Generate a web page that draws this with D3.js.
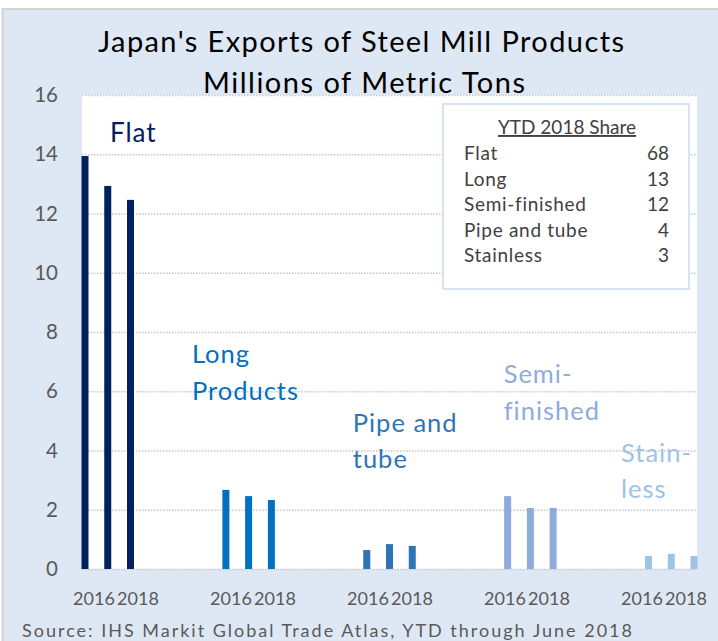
<!DOCTYPE html>
<html>
<head>
<meta charset="utf-8">
<script src="https://cdn.jsdelivr.net/npm/d3@7"></script>
<style>
  body { margin: 0; background: #fff; }
  svg { display: block; font-family: Lato, "Open Sans", sans-serif; }
</style>
</head>
<body>
<div id="chart"></div>
<script>
// chart data
const categories = ["Flat", "Long Products", "Pipe and tube", "Semi-finished", "Stainless"];
const years = ["2016", "2017", "2018"];
const flatValues = [13.94, 12.93, 12.46];
const longValues = [2.67, 2.46, 2.33];
const pipeValues = [0.64, 0.84, 0.78];
const semiValues = [2.46, 2.06, 2.06];
const stainlessValues = [0.44, 0.51, 0.44];
const yTicks = [0, 2, 4, 6, 8, 10, 12, 14, 16];
const xTickYears = ["2016", "2018"];
const groupLabels = [["Flat"], ["Long", "Products"], ["Pipe and", "tube"], ["Semi-", "finished"], ["Stain-", "less"]];
const shareLabels = ["Flat", "Long", "Semi-finished", "Pipe and tube", "Stainless"];
const shareValues = [68, 13, 12, 4, 3];

const seriesValues = [flatValues, longValues, pipeValues, semiValues, stainlessValues];
const colors = ["#002060", "#0070c0", "#2e75b6", "#8faadc", "#9dc3e6"];

// where the category names sit, relative to the first bar of the group
const labelLayout = [
  {dx: 25, y: 142, size: 26, lh: 0},
  {dx: -34, y: 363, size: 25.5, lh: 37},
  {dx: -14, y: 432, size: 25.5, lh: 36},
  {dx: -4, y: 383, size: 25.5, lh: 37},
  {dx: -27.5, y: 462, size: 25.5, lh: 36}
];

const w = 718, h = 641;
const plot = {left: 82, right: 697, top: 95, bottom: 569};

let svg = d3.select("#chart").append("svg")
  .attr("width", w)
  .attr("height", h);

// chart area background
svg.append("rect")
  .attr("x", 2.5).attr("y", 9)
  .attr("width", w + 10).attr("height", h + 10)
  .attr("fill", "#dee8f4")
  .attr("stroke", "#d4d4d4")
  .attr("stroke-width", 2);

svg.append("rect")
  .attr("x", plot.left).attr("y", plot.top)
  .attr("width", plot.right - plot.left)
  .attr("height", plot.bottom - plot.top)
  .attr("fill", "#fff");

// scales
let y = d3.scaleLinear().domain([0, 16]).range([plot.bottom, plot.top]);
let x0 = d3.scalePoint().domain(categories).range([85, 648.5]);
let x1 = d3.scalePoint().domain(years).range([0, 45.5]);
let xl0 = d3.scalePoint().domain(categories).range([94, 642]);
let xl1 = d3.scalePoint().domain(xTickYears).range([0, 44]);

// y axis + dotted gridlines
let yAxis = svg.append("g")
  .attr("transform", `translate(${plot.left},0)`)
  .call(d3.axisLeft(y).tickValues(yTicks).tickSize(-(plot.right - plot.left)).tickPadding(24));
yAxis.select(".domain").remove();
yAxis.selectAll(".tick line")
  .attr("stroke", "#c8c8c8")
  .attr("stroke-width", 1.5)
  .attr("stroke-dasharray", "1.5,1.5");
yAxis.selectAll(".tick text")
  .attr("fill", "#595959")
  .style("font-size", "20.5px")
  .style("font-family", "Lato, sans-serif");

// bars
let barData = categories.flatMap((c, i) =>
  seriesValues[i].map((v, j) => ({cat: c, year: years[j], value: v, color: colors[i]})));

svg.selectAll("rect.bar")
  .data(barData)
  .join("rect")
  .attr("class", "bar")
  .attr("x", d => x0(d.cat) + x1(d.year) - 3.5)
  .attr("y", d => y(d.value))
  .attr("width", 7)
  .attr("height", d => y(0) - y(d.value))
  .attr("fill", d => d.color);

// year labels under each group
let xLabelData = categories.flatMap(c => xTickYears.map(yr => ({cat: c, year: yr})));
svg.selectAll("text.xlab")
  .data(xLabelData)
  .join("text")
  .attr("class", "xlab")
  .attr("x", d => xl0(d.cat) + xl1(d.year))
  .attr("y", 605)
  .attr("text-anchor", "middle")
  .attr("fill", "#595959")
  .style("font-size", "18px")
  .text(d => d.year);

// category names inside the plot
categories.forEach((c, i) => {
  let lay = labelLayout[i];
  let t = svg.append("text")
    .attr("x", x0(c) + lay.dx)
    .attr("y", lay.y)
    .attr("fill", colors[i])
    .style("font-size", lay.size + "px")
    .style("letter-spacing", "1px");
  groupLabels[i].forEach((line, k) => {
    t.append("tspan")
      .attr("x", x0(c) + lay.dx)
      .attr("dy", k === 0 ? 0 : lay.lh)
      .text(line);
  });
});

// share table
svg.append("rect")
  .attr("x", 443).attr("y", 104)
  .attr("width", 246).attr("height", 185)
  .attr("fill", "#fff")
  .attr("stroke", "#c9dbf0")
  .attr("stroke-width", 1.5);

svg.append("text")
  .attr("x", 567).attr("y", 134)
  .attr("text-anchor", "middle")
  .attr("fill", "#404040")
  .style("font-size", "19px")
  .style("text-decoration", "underline")
  .text("YTD 2018 Share");

svg.selectAll("text.shareLab")
  .data(shareLabels)
  .join("text")
  .attr("class", "shareLab")
  .attr("x", 464)
  .attr("y", (d, i) => 160 + i * 25.6)
  .attr("fill", "#404040")
  .style("font-size", "19px")
  .style("letter-spacing", "0.7px")
  .text(d => d);

svg.selectAll("text.shareVal")
  .data(shareValues)
  .join("text")
  .attr("class", "shareVal")
  .attr("x", 669)
  .attr("y", (d, i) => 160 + i * 25.6)
  .attr("text-anchor", "end")
  .attr("fill", "#404040")
  .style("font-size", "19px")
  .text(d => d);

// title
svg.append("text")
  .attr("x", 361).attr("y", 52)
  .attr("text-anchor", "middle")
  .attr("fill", "#000")
  .attr("textLength", 526)
  .style("font-size", "29px")
  .text("Japan's Exports of Steel Mill Products");

svg.append("text")
  .attr("x", 364).attr("y", 93)
  .attr("text-anchor", "middle")
  .attr("fill", "#000")
  .attr("textLength", 322)
  .style("font-size", "29px")
  .text("Millions of Metric Tons");

// source note
svg.append("text")
  .attr("x", 22).attr("y", 637)
  .attr("fill", "#595959")
  .attr("textLength", 610)
  .style("font-size", "18px")
  .text("Source: IHS Markit Global Trade Atlas, YTD through June 2018");
</script>
</body>
</html>
